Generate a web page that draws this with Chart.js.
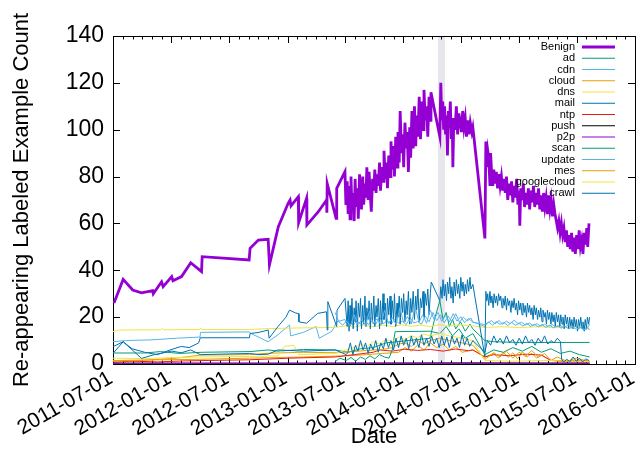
<!DOCTYPE html>
<html>
<head>
<meta charset="utf-8">
<script src="https://cdn.jsdelivr.net/npm/chart.js@4.4.1/dist/chart.umd.min.js"></script>
<style>
  html, body { margin: 0; padding: 0; background: #fff; }
</style>
</head>
<body>
<canvas id="chart" width="644" height="475"></canvas>
<script>
// axis range and ticks
const startDate = '2011-07-01';
const endDate = '2016-01-01';
const tickLabels = ['2011-07-01', '2012-01-01', '2012-07-01', '2013-01-01', '2013-07-01',
                    '2014-01-01', '2014-07-01', '2015-01-01', '2015-07-01', '2016-01-01'];
const yTicks = [0, 20, 40, 60, 80, 100, 120, 140];
const shadeRange = ['2014-04-20', '2014-05-12'];
const yTitle = 'Re-appearing Labeled Example Count';

const seriesNames = ['Benign', 'ad', 'cdn', 'cloud', 'dns', 'mail', 'ntp', 'push', 'p2p',
                     'scan', 'update', 'mes', 'googlecloud', 'crawl'];
const seriesColors = ['#9400d3', '#009e73', '#56b4e9', '#e69f00', '#f0e442', '#0072b2', '#e51e10',
                      '#000000', '#9400d3', '#009e73', '#56b4e9', '#e69f00', '#f0e442', '#0072b2'];

// [days since 2011-07-01, count]
const benign = [[3,26],[32,36.1],[62,31.6],[90,30.4],[125,31.3],[127,30],[153,35.1],[158,33],[185,37.3],[189,35.5],
  [216,37.3],[245,43.2],[279,39.4],[281,45.8],[429,44.4],[432,49.4],[458,52.9],[489,53.2],[493,42.3],[521,58.6],
  [552,68.6],[558,70],[561,67.5],[584,71.4],[585,60.3],[610,70.7],[611,59.3],[647,65],[673,70],[674,64.6],
  [675,77.1],[703,62.2],[705,75],[731,82.1],[734,67.9],
  [738,78],[741,64],[744,76],[747,62],[750,80],[753,66],[757,73],[760,61],[763,79],[766,67],[770,75],[773,62],
  [777,81],[780,70],[783,66],[787,80],[790,68],[794,77],[797,71],[800,84],[804,70],[807,82],[811,72],[814,65],
  [818,79],[822,74],[825,83],[829,73],[832,81],[836,76],[840,86],[843,74],[847,84],[851,78],[854,91],[858,79],
  [862,86],[865,75],[869,89],[873,80],[876,95],[880,83],[884,93],[887,80],[891,97],[895,84],[898,99],[902,86],
  [905,108],[909,90],[913,98],[916,84],[920,103],[924,92],[927,99],[931,82],[935,101],[938,88],[942,108],[946,92],
  [950,110],[954,93],[957,106],[961,97],[965,114],[969,96],[973,112],[977,100],[980,117],[984,104],[988,110],
  [992,97],[996,114],[1000,104],[1002,116],
  [1030,97],[1033,120],[1036,104],[1039,112],[1042,100],[1045,110],[1048,98],[1051,106],[1054,89],[1057,108],
  [1060,101],[1063,112],[1066,96],[1069,105],[1071,84],[1074,104],[1078,100],[1082,110],[1086,98],[1090,107],
  [1094,103],[1098,99],[1102,108],[1106,101],[1110,105],[1114,97],[1118,104],[1122,98],[1126,103],[1131,99],
  [1134,101],[1172,53.6],[1175,95],[1177,84],[1181,91],[1184,88],[1188,76],[1190,90],[1193,82],[1197,76],
  [1200,83],[1204,77],[1208,82],[1212,75],[1216,81],[1220,76],[1224,80],[1228,74],[1232,79],[1236,73],[1240,80],
  [1244,70],[1248,77],[1252,72],[1256,78],[1260,69],[1264,76],[1268,71],[1272,79],[1276,68],[1280,74],[1282,59],
  [1285,75],[1289,70],[1293,77],[1297,67],[1301,73],[1305,68],[1309,75],[1313,66],[1317,74],[1321,69],[1325,76],
  [1329,67],[1333,73],[1337,68],[1341,75],[1345,66],[1349,72],[1353,65],[1357,73],[1361,67],[1365,71],[1369,64],
  [1373,72],[1377,66],[1381,70],[1385,63],[1389,68],[1393,64],[1397,61],[1401,58],[1405,61],[1409,56],[1413,60],
  [1417,55],[1421,58],[1425,52],[1429,57],[1433,50],[1437,55],[1441,49],[1445,56],[1449,48],[1453,54],[1457,47],
  [1461,55],[1465,49],[1469,57],[1473,50],[1477,53],[1481,47],[1485,56],[1489,51],[1493,58],[1496,50],[1500,60]];

const ad = [[0,4.7],[100,4.7],[150,5.3],[210,4.5],[280,5],[432,5.3],[489,6],[520,5.5],[600,6.2],[700,6],
  [740,5],[780,6.5],[820,7],[860,9],[930,10],[999,11],[1015,20],[1030,27],[1040,19],[1050,22],[1060,16],
  [1070,19],[1080,15],[1095,18],[1110,14],[1125,17],[1134,15],[1172,10],[1200,9.5],[1282,9.2],[1502,9.2]];

const cdn = [[0,9.5],[40,10],[120,10.3],[200,11],[274,11.5],[276,13.5],[430,13.7],[432,13.2],[489,9.5],[520,12.5],
  [556,16.6],[560,12],[600,13.5],[640,16],[650,11],[690,14],[705,18],[731,19],
  [735,17.5],[745,19],[757,16.5],[768,18.5],[780,17],[792,19.5],[804,16.8],[816,18.2],[828,17],[840,20],
  [852,17.2],[864,18.6],[876,16.9],[888,19.1],[900,17.4],[912,18.3],[924,16.8],[936,19.8],[948,17.5],[960,18.1],
  [972,17],[984,20.5],[996,18],[1008,22],[1020,18.5],[1032,21],[1044,17.5],[1056,20.5],[1068,18],[1080,21.5],
  [1092,17.8],[1104,20],[1116,18.4],[1128,19.6],[1134,18],[1172,16],[1180,17.4],[1192,18.5],[1204,17.1],
  [1216,18.6],[1228,17],[1240,18.3],[1252,17.2],[1264,18.7],[1276,17.3],[1288,17.8],[1300,16.6],[1312,17.5],
  [1324,16.4],[1336,17.2],[1348,16.1],[1360,17],[1372,15.9],[1384,16.8],[1396,15.7],[1408,16.5],[1420,15.6],
  [1432,16.4],[1444,15.3],[1456,16.1],[1468,15],[1480,16],[1492,14.6],[1502,17]];

const cloud = [[0,1.5],[150,1.8],[274,2],[430,2.5],[600,3],[740,3.5],[800,4],[850,4.5],[900,5],[920,7],[940,5.5],
  [960,8],[980,6],[1000,9],[1020,7],[1040,8.5],[1060,6],[1080,7.5],[1100,5],[1134,6],[1172,3],[1200,4.5],
  [1215,2.5],[1230,5],[1245,2.8],[1260,4.8],[1275,2.2],[1290,5.2],[1305,3],[1320,4.6],[1335,2.5],[1350,3.8],
  [1380,1.5],[1420,1],[1502,0.8]];

const dns = [[0,13.8],[20,14.5],[150,14.6],[155,15.2],[160,14.6],[274,14.7],[276,15.3],[280,14.7],[430,14.7],
  [470,15],[550,15.3],[640,15.5],[700,15.6],[735,16.4],[760,15.8],[790,16.5],[820,15.9],[850,16.6],[880,16],
  [910,16.7],[940,16.1],[970,16.6],[1000,16],[1030,16.8],[1060,16.2],[1090,16.7],[1134,16.3],[1172,15.6],
  [1220,15.9],[1280,15.6],[1340,15.9],[1400,15.5],[1460,15.8],[1502,15.3]];

const mail = [[0,7.4],[32,9.5],[60,6.5],[100,5],[140,4],[180,6],[215,7.5],[240,7],[270,9],[275,11.2],[430,11.2],
  [432,13],[460,13.5],[489,14.5],[492,11],[520,16],[545,20],[556,23],[575,21.8],[585,21.5],[586,18],[610,17.4],
  [645,21.6],[673,22.3],[675,14.5],[677,26.6],[705,16],[706,23],[731,28],
  [738,16],[741,27],[744,14],[747,25],[750,17],[753,28],[757,15],[760,24],[763,18],[766,27],[770,14],[773,26],
  [777,20],[780,28],[783,15],[787,25],[790,17],[794,29],[797,16],[800,24],[804,19],[807,27],[811,15],[814,26],
  [818,18],[822,29],[825,16],[829,25],[832,20],[836,28],[840,15],[843,27],[847,17],[851,30],[854,19],[858,26],
  [862,16],[865,28],[869,21],[873,29],[876,17],[880,27],[884,19],[887,30],[891,16],[895,26],[898,20],[902,29],
  [905,17],[909,28],[913,22],[916,30],[920,18],[924,27],[927,21],[931,31],[935,17],[938,28],[942,22],[946,31],
  [950,19],[954,29],[957,23],[961,32],[965,18],[969,28],[973,24],[977,31],[980,20],[984,30],[988,25],[992,32],
  [996,21],[1000,30],[1003,35],[1030,27],[1033,33],[1037,28],[1040,36],[1044,29],[1047,34],[1051,27],[1054,35],
  [1058,30],[1061,37],[1065,28],[1068,33],[1072,26],[1075,35],[1079,29],[1082,36],[1086,30],[1089,34],[1093,28],
  [1096,37],[1100,31],[1103,35],[1107,29],[1110,34],[1114,30],[1117,36],[1121,31],[1125,37],[1128,32],[1134,34],
  [1172,3],[1175,31],[1178,27],[1181,30],[1184,25],[1188,31],[1191,26],[1194,29],[1198,24],[1201,30],[1205,26],
  [1208,29],[1212,25],[1215,30],[1219,27],[1222,29],[1226,24],[1229,28],[1233,25],[1236,29],[1240,23],[1243,28],
  [1247,25],[1250,27],[1254,22],[1257,27],[1261,24],[1264,28],[1268,23],[1271,26],[1275,21],[1278,27],[1282,23],
  [1285,26],[1289,21],[1292,26],[1296,22],[1299,25],[1303,20],[1306,26],[1310,22],[1313,25],[1317,21],[1320,24],
  [1324,19],[1327,25],[1331,21],[1334,24],[1338,19],[1341,23],[1345,20],[1348,24],[1352,18],[1355,23],[1359,20],
  [1362,22],[1366,17],[1369,23],[1373,19],[1376,22],[1380,17],[1383,22],[1387,18],[1390,21],[1394,16],[1397,22],
  [1401,18],[1404,21],[1408,16],[1411,21],[1415,17],[1418,20],[1422,15],[1425,21],[1429,17],[1432,20],[1436,15],
  [1439,20],[1443,16],[1446,19],[1450,15],[1453,20],[1457,16],[1460,19],[1464,14],[1467,19],[1471,16],[1474,20],
  [1478,15],[1481,18],[1485,14],[1488,19],[1492,15],[1495,20],[1499,17],[1502,20]];

const ntp = [[0,0.8],[60,1.2],[140,0.9],[220,1.3],[300,1.5],[430,1.8],[560,2.5],[700,3],[760,4],[820,5],[841,6],
  [880,5.5],[920,6.3],[960,5.8],[1000,6.2],[1040,5.5],[1080,6.4],[1120,5.7],[1134,6],[1172,3],[1200,4],
  [1250,3.5],[1300,4.2],[1350,3.8],[1380,1.5],[1502,1.2]];

const push = [[0,0.4],[600,0.4],[1134,0.5],[1502,0.4]];

const p2p = [[0,0.2],[1502,0.2]];

const scan = [[700,1],[715,2.5],[735,1.5],[750,2.8],[765,1.2],[780,3],[795,2],[810,3.5],[825,2.2],[840,4],
  [855,3],[870,2.5],[880,6],[889,13.8],[999,14],[1030,13],[1050,16],[1070,12],[1090,15],[1110,11],[1134,13],
  [1172,4],[1200,6],[1230,5],[1260,7],[1290,5.5],[1320,7.5],[1350,5],[1380,6.5],[1410,4.5],[1440,5.5],
  [1470,4],[1502,3]];

const update = [[700,22],[712,18],[724,16.6],[736,18.4],[748,16.2],[760,21],[772,16.8],[784,18.9],[796,16.4],
  [808,22.5],[820,17],[832,19.4],[844,16.7],[856,23],[868,17.2],[880,19.8],[892,16.9],[904,24],[916,17.6],
  [928,20.3],[940,17.1],[952,24.5],[964,17.8],[976,21],[988,17.4],[1000,23],[1012,19],[1024,22],[1036,18.2],
  [1048,20.8],[1060,17.9],[1072,21.5],[1084,18.3],[1096,20.2],[1108,17.6],[1120,19.5],[1134,17.8],[1172,16.8],
  [1184,17.9],[1196,16.6],[1208,18.1],[1220,16.9],[1232,17.7],[1244,16.4],[1256,17.8],[1268,16.5],[1280,17.3],
  [1292,16.2],[1304,17.4],[1316,16],[1328,17],[1340,15.8],[1352,16.9],[1364,15.6],[1376,16.6],[1388,15.4],
  [1400,16.3],[1412,15.3],[1424,16.1],[1436,15],[1448,15.9],[1460,14.8],[1472,15.7],[1484,14.6],[1496,15.5],
  [1502,14.4]];

const mes = [[0,1.2],[100,1.6],[200,2.5],[274,3.8],[430,4],[489,4.6],[600,5],[700,4.8],[750,5.2],[800,5.8],
  [850,6.2],[880,7],[900,8.5],[920,9],[940,7.5],[960,10],[980,8.5],[1000,10],[1030,11],[1060,10],[1100,9],
  [1134,8],[1172,2],[1200,4.8],[1220,3],[1240,5.5],[1260,2.5],[1280,5],[1300,3.2],[1320,5.8],[1340,2.8],
  [1360,4.5],[1380,1.5],[1400,3],[1430,1.2],[1460,2.5],[1502,1]];

const googlecloud = [[0,2.5],[100,2.3],[200,2.8],[274,3],[430,3.2],[520,3.5],[540,7.5],[570,8],[585,4],[700,4.5],
  [760,7],[780,8.5],[800,7.5],[820,9.5],[840,8.5],[860,10.5],[880,9.5],[900,11.5],[920,10.5],[940,12],[960,11.2],
  [980,12.8],[1000,12],[1030,13],[1060,12],[1100,11],[1134,10],[1172,1.5],[1250,1.2],[1380,1.5],[1502,1]];

const crawl = [[0,4.5],[32,9.5],[90,2.4],[130,4],[185,5.5],[215,4.8],[245,6],[275,4],[430,4.5],[460,4],[489,4.2],
  [520,6],[600,5.5],[700,6],[735,4],
  [740,5],[748,9],[756,4],[764,8],[772,5.5],[780,10],[788,6],[796,9],[804,4.5],[812,8.5],[820,6],[828,10],
  [836,5],[844,9],[852,6.5],[860,11],[868,7],[876,10],[884,6],[892,11],[900,7],[908,12],[916,8],[924,11],
  [932,6.5],[940,12],[948,8],[956,11],[964,7],[972,12.5],[980,8],[988,11],[996,7.5],[1004,12],[1012,8.5],
  [1020,11],[1028,7],[1036,12],[1044,8],[1052,11.5],[1060,7],[1068,12],[1076,8.5],[1084,11],[1092,7],[1100,12.5],
  [1108,8],[1116,11],[1124,7.5],[1134,10],[1172,5],[1180,10],[1190,8],[1200,12],[1210,9],[1220,11],[1230,8.5],
  [1240,12],[1250,9],[1260,10.5],[1270,8],[1280,11],[1290,8.5],[1300,12],[1310,9],[1320,10.5],[1330,8],[1340,11],
  [1350,9],[1360,12],[1370,8.5],[1380,10],[1390,9],[1400,11],[1410,9.5],[1414,2],[1420,0.8],[1430,2],[1440,1],
  [1450,3],[1460,1.2],[1470,2.4],[1480,0.9],[1490,2.2],[1500,1.5]];

const seriesData = [benign, ad, cdn, cloud, dns, mail, ntp, push, p2p, scan, update, mes, googlecloud, crawl];

const FONT = '"Liberation Sans", Arial, Helvetica, sans-serif';
Chart.defaults.font.family = FONT;
Chart.defaults.color = '#000';

function dayOf(s) {
  return (Date.parse(s) - Date.parse(startDate)) / 86400000;
}

// gnuplot-ish frame, inside ticks, shaded band, key, date labels and y title
const gnuplotLook = {
  id: 'gnuplotLook',
  beforeDatasetsDraw(chart) {
    const { ctx, chartArea: a, scales: { x, y } } = chart;
    ctx.save();
    const s0 = x.getPixelForValue(dayOf(shadeRange[0]));
    const s1 = x.getPixelForValue(dayOf(shadeRange[1]));
    ctx.fillStyle = '#e6e6ec';
    ctx.fillRect(s0, a.top, s1 - s0, a.bottom - a.top);

    ctx.strokeStyle = '#000';
    ctx.lineWidth = 1;
    ctx.beginPath();
    // monthly minor ticks, half-yearly major ticks
    const majors = tickLabels.map(dayOf);
    const d = new Date(Date.parse(startDate));
    const end = Date.parse(endDate);
    while (d.getTime() <= end) {
      const v = (d.getTime() - Date.parse(startDate)) / 86400000;
      const len = majors.includes(v) ? 7 : 3.5;
      const px = Math.round(x.getPixelForValue(v)) + 0.5;
      ctx.moveTo(px, a.bottom); ctx.lineTo(px, a.bottom - len);
      ctx.moveTo(px, a.top); ctx.lineTo(px, a.top + len);
      d.setUTCMonth(d.getUTCMonth() + 1);
    }
    yTicks.forEach(v => {
      const py = Math.round(y.getPixelForValue(v)) + 0.5;
      ctx.moveTo(a.left, py); ctx.lineTo(a.left + 7, py);
      ctx.moveTo(a.right, py); ctx.lineTo(a.right - 7, py);
    });
    ctx.stroke();
    ctx.strokeRect(Math.round(a.left) + 0.5, Math.round(a.top) + 0.5,
                   Math.round(a.right - a.left), Math.round(a.bottom - a.top));
    ctx.restore();
  },
  afterDatasetsDraw(chart) {
    const { ctx, chartArea: a } = chart;
    ctx.save();
    ctx.font = '11px ' + FONT;
    ctx.textAlign = 'right';
    ctx.textBaseline = 'middle';
    chart.data.datasets.forEach((ds, i) => {
      const yy = a.top + 11 + i * 11.25;
      ctx.fillStyle = '#000';
      ctx.fillText(ds.label, a.right - 60, yy);
      ctx.strokeStyle = ds.borderColor;
      ctx.lineWidth = ds.borderWidth;
      ctx.beginPath();
      ctx.moveTo(a.right - 53, yy);
      ctx.lineTo(a.right - 20, yy);
      ctx.stroke();
    });
    ctx.restore();
  },
  afterDraw(chart) {
    const { ctx, chartArea: a, scales: { x } } = chart;
    ctx.save();
    ctx.fillStyle = '#000';
    // rotated date labels, right end at the tick
    ctx.font = '21px ' + FONT;
    ctx.textAlign = 'right';
    ctx.textBaseline = 'middle';
    tickLabels.forEach(s => {
      const px = x.getPixelForValue(dayOf(s));
      ctx.save();
      ctx.translate(px - 2, a.bottom + 13);
      ctx.rotate(-Math.PI / 6);
      ctx.fillText(s, 0, 0);
      ctx.restore();
    });
    // y axis title
    ctx.translate(22, (a.top + a.bottom) / 2);
    ctx.rotate(-Math.PI / 2);
    ctx.font = '22px ' + FONT;
    ctx.textAlign = 'center';
    ctx.fillText(yTitle, 0, 0);
    ctx.restore();
  }
};

const datasets = seriesNames.map((name, i) => ({
  label: name,
  data: seriesData[i].map(p => ({ x: p[0], y: p[1] })),
  borderColor: seriesColors[i],
  backgroundColor: seriesColors[i],
  borderWidth: i === 0 ? 2.8 : 1,
  pointRadius: 0,
  tension: 0,
  fill: false,
  order: seriesNames.length - i
}));

new Chart(document.getElementById('chart').getContext('2d'), {
  type: 'line',
  data: { datasets: datasets },
  options: {
    responsive: false,
    animation: false,
    layout: { padding: { top: 36, right: 9, bottom: 25, left: 9 } },
    plugins: {
      legend: { display: false },
      tooltip: { enabled: false }
    },
    scales: {
      x: {
        type: 'linear',
        min: 0,
        max: dayOf(endDate),
        grid: { display: false, drawTicks: false },
        border: { display: false },
        afterBuildTicks: scale => {
          scale.ticks = tickLabels.map(s => ({ value: dayOf(s) }));
        },
        afterFit: scale => {
          scale.height = 86;
          scale.paddingLeft = 0;
          scale.paddingRight = 0;
        },
        ticks: { display: false },
        title: { display: true, text: 'Date', font: { size: 22 }, padding: { top: 0, bottom: 0 } }
      },
      y: {
        min: 0,
        max: 140,
        afterBuildTicks: scale => {
          scale.ticks = yTicks.map(v => ({ value: v }));
        },
        afterFit: scale => {
          scale.width = 104;
        },
        grid: { display: false, drawTicks: false },
        border: { display: false },
        ticks: { padding: 9, font: { size: 23 } },
        title: { display: false }
      }
    }
  },
  plugins: [gnuplotLook]
});
</script>
</body>
</html>
